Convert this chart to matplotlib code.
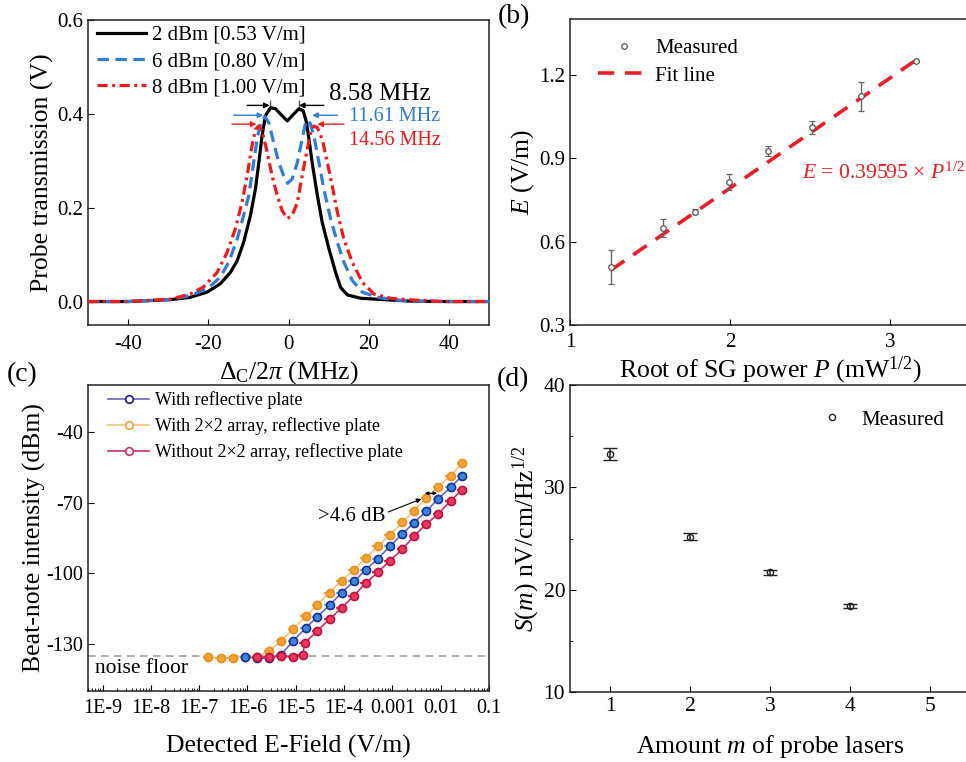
import matplotlib
matplotlib.use('Agg')
import matplotlib.pyplot as plt
from matplotlib.lines import Line2D
from matplotlib.ticker import FixedLocator, FixedFormatter, MultipleLocator, FormatStrFormatter, LogLocator, NullFormatter
import numpy as np

# ---------------- data ----------------
# (a) probe transmission spectra
a_x_2dbm = [-50, -40, -29.5, -24.5, -20.3, -17, -14.5, -12.8, -11.2, -9.5, -8.25, -7.4, -6.6, -5.75, -4.5,
            -3.25, -1.6, -0.3, 0.9, 2.6, 3.7, 4.5, 5.1, 5.9, 7.2, 8.4, 10.1, 11.75, 13, 14.7, 18, 23.8, 30, 40, 50]
a_y_2dbm = [0.0, 0.0, 0.004, 0.009, 0.02, 0.038, 0.062, 0.087, 0.126, 0.183, 0.24, 0.296, 0.353, 0.396, 0.413,
            0.411, 0.396, 0.385, 0.396, 0.411, 0.406, 0.381, 0.346, 0.296, 0.226, 0.169, 0.112, 0.062, 0.030, 0.014,
            0.007, 0.004, 0.001, 0.0, 0.0]
a_x_6dbm = [-50, -40, -29.5, -24.5, -20.3, -17, -14.9, -12.8, -11.2, -9.9, -8.7, -7.7, -6.8, -5.9, -4.9, -3.7,
            -2.4, -1.2, -0.2, 0.9, 2.2, 3.4, 4.25, 4.8, 5.5, 6.5, 7.6, 8.8, 10.5, 12.2, 13.8, 15.9, 18.4, 22.2,
            27.2, 35, 50]
a_y_6dbm = [0.0, 0.0, 0.004, 0.013, 0.027, 0.052, 0.084, 0.133, 0.183, 0.226, 0.296, 0.353, 0.385, 0.394, 0.381,
            0.339, 0.296, 0.268, 0.252, 0.261, 0.296, 0.346, 0.381, 0.387, 0.378, 0.346, 0.296, 0.240, 0.176,
            0.126, 0.084, 0.045, 0.020, 0.009, 0.003, 0.0, 0.0]
a_x_8dbm = [-50, -40, -29.5, -24.5, -21.2, -17.8, -15.3, -13.25, -11.6, -10.3, -9.25, -8.25, -7.4, -6.6, -5.3,
            -4.1, -2.8, -1.6, -0.3, 0.9, 2.2, 3.4, 4.7, 5.5, 6.3, 7.2, 8.4, 9.7, 10.9, 12.2, 13.8, 15.9, 18.4,
            21.3, 25.5, 29.7, 38, 50]
a_y_8dbm = [0.0, 0.0, 0.005, 0.016, 0.031, 0.062, 0.105, 0.155, 0.211, 0.268, 0.325, 0.367, 0.374, 0.364, 0.318,
            0.268, 0.226, 0.194, 0.177, 0.183, 0.211, 0.268, 0.325, 0.360, 0.374, 0.371, 0.346, 0.296, 0.247,
            0.190, 0.133, 0.084, 0.041, 0.016, 0.007, 0.004, 0.0, 0.0]
a_labels = ['2 dBm [0.53 V/m]', '6 dBm [0.80 V/m]', '8 dBm [1.00 V/m]']
a_split_labels = ['8.58 MHz', '11.61 MHz', '14.56 MHz']
# splitting markers: (left tail, left tip, right tail, right tip, y)
a_split_arrows = [(-10.3, -4.7, 8.8, 2.6, 0.418),
                  (-13.7, -6.3, 12.2, 5.9, 0.397),
                  (-14.1, -8.0, 13.8, 7.2, 0.378)]
a_xticks = [-40, -20, 0, 20, 40]
a_yticks = [0.0, 0.2, 0.4, 0.6]

# (b) E field vs root of SG power
b_root_p = [1.256, 1.583, 1.779, 1.996, 2.24, 2.51, 2.82, 3.16]
b_E = [0.51, 0.648, 0.708, 0.813, 0.926, 1.01, 1.123, 1.249]
b_E_err = [0.061, 0.033, 0.008, 0.029, 0.017, 0.022, 0.052, 0.003]
b_fit_slope = 0.39595
b_xticks = [1, 2, 3]
b_yticks = [0.3, 0.6, 0.9, 1.2]

# (c) beat-note intensity vs detected field
c_x_plate = [8.9e-7, 1.6e-6, 2.8e-6, 5.0e-6, 8.9e-6, 1.6e-5, 2.8e-5, 5.0e-5, 8.9e-5, 1.6e-4, 2.8e-4,
             5.0e-4, 8.9e-4, 1.6e-3, 2.8e-3, 5.0e-3, 8.9e-3, 1.6e-2, 2.8e-2]
c_y_plate = [-135.4, -136.1, -136.1, -134.5, -128.6, -123.3, -118.4, -113.6, -108.2, -103.4, -98.6,
             -93.8, -88.5, -83.3, -78.5, -73.7, -68.3, -63.5, -58.5]
c_x_array = [1.55e-7, 2.8e-7, 5.0e-7, 8.9e-7, 1.6e-6, 2.8e-6, 5.0e-6, 8.9e-6, 1.6e-5, 2.8e-5, 5.0e-5,
             8.9e-5, 1.6e-4, 2.8e-4, 5.0e-4, 8.9e-4, 1.6e-3, 2.8e-3, 5.0e-3, 8.9e-3, 1.6e-2, 2.8e-2]
c_y_array = [-135.7, -136.1, -135.8, -135.4, -135.5, -133.1, -128.6, -123.6, -118.3, -113.3, -108.2,
             -103.1, -98.6, -93.5, -88.5, -83.6, -78.4, -73.4, -68.0, -63.2, -58.5, -53.3]
c_x_without = [1.6e-6, 2.8e-6, 5.0e-6, 8.9e-6, 1.39e-5, 1.55e-5, 2.8e-5, 5.0e-5, 8.9e-5, 1.6e-4, 2.8e-4,
               5.0e-4, 8.9e-4, 1.6e-3, 2.8e-3, 5.0e-3, 8.9e-3, 1.6e-2, 2.8e-2]
c_y_without = [-135.6, -135.5, -135.3, -135.4, -134.5, -129.6, -124.3, -119.5, -114.7, -109.5, -104.2,
               -99.6, -94.6, -89.8, -84.2, -79.1, -74.8, -69.2, -64.5]
c_xerr_rel = 0.23
c_noise_floor = -135.3
c_labels = ['With reflective plate', 'With 2\u00d72 array, reflective plate', 'Without 2\u00d72 array, reflective plate']
c_xtick_vals = [1e-9, 1e-8, 1e-7, 1e-6, 1e-5, 1e-4, 1e-3, 1e-2, 1e-1]
c_xtick_labels = ['1E-9', '1E-8', '1E-7', '1E-6', '1E-5', '1E-4', '0.001', '0.01', '0.1']
c_yticks = [-130, -100, -70, -40]

# (d) sensitivity vs number of probe lasers
d_m = [1, 2, 3, 4]
d_S = [33.26, 25.19, 21.71, 18.43]
d_S_err = [0.6, 0.3, 0.26, 0.18]
d_xticks = [1, 2, 3, 4, 5]
d_yticks = [10, 20, 30, 40]

# ---------------- style ----------------
plt.rcParams['font.family'] = ['Liberation Serif', 'DejaVu Serif']
plt.rcParams['mathtext.fontset'] = 'custom'
plt.rcParams['mathtext.rm'] = 'Liberation Serif'
plt.rcParams['mathtext.it'] = 'Liberation Serif:italic'
plt.rcParams['axes.unicode_minus'] = False
plt.rcParams['xtick.direction'] = 'in'
plt.rcParams['ytick.direction'] = 'in'
plt.rcParams['axes.linewidth'] = 1.1
plt.rcParams['axes.edgecolor'] = '#222222'
plt.rcParams['xtick.major.size'] = 4
plt.rcParams['ytick.major.size'] = 4
plt.rcParams['xtick.minor.size'] = 2
plt.rcParams['ytick.minor.size'] = 2

W, H = 966, 762
fig = plt.figure(figsize=(W / 100, H / 100), dpi=100)


def rect(l, t, r, b):
    return [l / W, 1 - b / H, (r - l) / W, (b - t) / H]


axa = fig.add_axes(rect(88, 20, 489, 325))
axb = fig.add_axes(rect(570, 19, 970, 325))
axc = fig.add_axes(rect(88, 385, 489, 691))
axd = fig.add_axes(rect(570, 385, 970, 692))

# ---------------- (a) ----------------
blue_a = '#2f7dd8'
red_a = '#f01a1a'
axa.plot(a_x_2dbm, a_y_2dbm, color='black', lw=2.3, label=a_labels[0], zorder=3)
axa.plot(a_x_6dbm, a_y_6dbm, color=blue_a, lw=2.3, dashes=(3.6, 2.0), label=a_labels[1], zorder=4)
axa.plot(a_x_8dbm, a_y_8dbm, color=red_a, lw=2.3, dashes=(3.2, 1.4, 0.9, 1.4), label=a_labels[2], zorder=5)
axa.set_xlim(-50, 50)
axa.set_ylim(-0.05, 0.6)
axa.set_xticks(a_xticks)
axa.set_yticks(a_yticks)
axa.yaxis.set_major_formatter(FormatStrFormatter('%.1f'))
axa.tick_params(labelsize=15)
axa.tick_params(axis='x', pad=7)
axa.set_xlabel(r'$\Delta_\mathrm{C}$/2$\pi$ (MHz)', fontsize=18.5, labelpad=4)
axa.set_ylabel('Probe transmission (V)', fontsize=18.5, labelpad=2)
axa.legend(loc='upper left', bbox_to_anchor=(0.015, 0.993), frameon=False, fontsize=15,
           handlelength=2.35, handletextpad=0.3, labelspacing=0.32, borderaxespad=0, borderpad=0.15)
arrow_cols = [('#555555', 'black'), ('#6aa8e8', blue_a), ('#f05050', red_a)]
for (lt, ltip, rt, rtip, yy), (lc, hc) in zip(a_split_arrows, arrow_cols):
    for tail, tip in ((lt, ltip), (rt, rtip)):
        axa.annotate('', xy=(tip, yy), xytext=(tail, yy),
                     arrowprops=dict(arrowstyle='-|>', color=hc, lw=1.0, mutation_scale=8,
                                     shrinkA=0, shrinkB=0), zorder=6)
axa.plot([a_split_arrows[0][1] + 0.2] * 2, [0.408, 0.428], color='#555555', lw=1)
axa.plot([a_split_arrows[0][3]] * 2, [0.408, 0.428], color='#555555', lw=1)
axa.text(10, 0.443, a_split_labels[0], fontsize=18, va='center', color='black')
axa.text(15, 0.394, a_split_labels[1], fontsize=14.5, va='center', color=blue_a)
axa.text(15, 0.343, a_split_labels[2], fontsize=14.5, va='center', color=red_a)

# ---------------- (b) ----------------
axb.errorbar(b_root_p, b_E, yerr=b_E_err, fmt='o', ms=4, mfc='white', mec='#555555', mew=0.9,
             ecolor='#666666', elinewidth=1.0, capsize=2.5, capthick=1.0, zorder=3)
xf = np.array([b_root_p[0], b_root_p[-1]])
axb.plot(xf, b_fit_slope * xf, color='#ee1c25', lw=2.6, dashes=(4.5, 3.0), zorder=2)
axb.set_xlim(1, 3.5)
axb.set_ylim(0.3, 1.4)
axb.set_xticks(b_xticks)
axb.set_yticks(b_yticks)
axb.yaxis.set_major_formatter(FormatStrFormatter('%.1f'))
axb.tick_params(labelsize=15)
axb.tick_params(axis='x', pad=6)
axb.set_xlabel(r'Root of SG power $P$ (mW$^{1/2}$)', fontsize=18.5, labelpad=2)
axb.set_ylabel(r'$E$ (V/m)', fontsize=18.5, labelpad=2)
hb = [Line2D([], [], ls='none', marker='o', ms=4, mfc='white', mec='#555555', mew=0.9),
      Line2D([], [], color='#ee1c25', lw=2.6, dashes=(4.5, 3.0))]
axb.legend(hb, ['Measured', 'Fit line'], loc='upper left', bbox_to_anchor=(0.07, 0.935), frameon=False,
           fontsize=15, handlelength=2.5, handletextpad=0.25, labelspacing=0.36, borderaxespad=0, borderpad=0)
axb.text(2.45, 0.847, r'$E$ = 0.39595 $\times$ $P^{1/2}$', fontsize=15.6, color='#ee1c25', va='center')

# ---------------- (c) ----------------
series_c = [
    (c_x_array, c_y_array, '#f7c27a', '#f3a23a', '#e8901e', '#f4a640', 2),
    (c_x_plate, c_y_plate, '#6464c8', '#3c86d8', '#1a2e9a', '#40c4e6', 3),
    (c_x_without, c_y_without, '#c8306e', '#e8385c', '#c01040', '#e82a48', 4),
]
for xs, ys, lc, fc, ec, erc, z in series_c:
    xs = np.array(xs)
    axc.plot(xs, ys, color=lc, lw=1.2, zorder=z)
    axc.errorbar(xs, ys, xerr=c_xerr_rel * xs, fmt='none', ecolor=erc, elinewidth=1.6, zorder=z)
    axc.plot(xs, ys, ls='none', marker='o', ms=5.8, mfc=fc, mec=ec, mew=1.2, zorder=z + 0.5)
axc.axhline(c_noise_floor, color='#999999', lw=1.1, dashes=(5, 3.5), zorder=1)
axc.set_xscale('log')
axc.set_xlim(5e-10, 0.1)
axc.set_ylim(-150, -20)
axc.xaxis.set_major_locator(FixedLocator(c_xtick_vals))
axc.xaxis.set_major_formatter(FixedFormatter(c_xtick_labels))
axc.xaxis.set_minor_locator(LogLocator(base=10, subs=np.arange(2, 10), numticks=20))
axc.xaxis.set_minor_formatter(NullFormatter())
axc.set_yticks(c_yticks)
axc.tick_params(labelsize=14.5)
axc.tick_params(axis='x', pad=6)
axc.set_xlabel('Detected E-Field (V/m)', fontsize=18.5, labelpad=12)
axc.set_ylabel('Beat-note intensity (dBm)', fontsize=18.5, labelpad=0)
hc = [Line2D([], [], color='#6464c8', lw=1.2, marker='o', ms=5.5, mfc='white', mec='#1a1a8c', mew=1.2),
      Line2D([], [], color='#f7c27a', lw=1.2, marker='o', ms=5.5, mfc='white', mec='#f0a040', mew=1.2),
      Line2D([], [], color='#c8306e', lw=1.2, marker='o', ms=5.5, mfc='white', mec='#c0306a', mew=1.2)]
axc.legend(hc, c_labels, loc='upper left', bbox_to_anchor=(0.045, 0.985), frameon=False, fontsize=13,
           handlelength=2.3, handletextpad=0.3, labelspacing=0.45, borderaxespad=0, borderpad=0.1)
axc.text(7e-10, -140.5, 'noise floor', fontsize=15.5, va='center')
axc.annotate('>4.6 dB', xy=(4.0e-3, -68.4), xytext=(2.9e-5, -76), fontsize=15, va='center',
             arrowprops=dict(arrowstyle='-|>', color='black', lw=0.8, mutation_scale=7, shrinkA=0, shrinkB=0,
                             relpos=(1.0, 0.7)))
axc.annotate('', xy=(8.4e-3, -66.0), xytext=(4.7e-3, -66.0),
             arrowprops=dict(arrowstyle='<|-|>', color='black', lw=0.8, mutation_scale=5, shrinkA=0, shrinkB=0))

# ---------------- (d) ----------------
axd.errorbar(d_m, d_S, yerr=d_S_err, fmt='o', ms=4.5, mfc='none', mec='#222222', mew=1.0,
             ecolor='#222222', elinewidth=1.1, capsize=5, capthick=1.1)
axd.set_xlim(0.5, 5.5)
axd.set_ylim(10, 40)
axd.set_xticks(d_xticks)
axd.set_yticks(d_yticks)
axd.yaxis.set_minor_locator(MultipleLocator(5))
axd.tick_params(labelsize=15.5)
axd.set_xlabel(r'Amount $m$ of probe lasers', fontsize=18.5, labelpad=12)
axd.set_ylabel(r'$S$($m$) nV/cm/Hz$^{1/2}$', fontsize=18.5, labelpad=1)
hd = [Line2D([], [], ls='none', marker='o', ms=4.5, mfc='none', mec='#222222', mew=1.0)]
axd.legend(hd, ['Measured'], loc='upper left', bbox_to_anchor=(0.63, 0.918), frameon=False, fontsize=15,
           handlelength=1.0, handletextpad=0.9, borderaxespad=0, borderpad=0)

# panel labels
fig.text(498 / W, 1 - 17 / H, '(b)', fontsize=20, va='center', ha='left')
fig.text(7 / W, 1 - 375 / H, '(c)', fontsize=20, va='center', ha='left')
fig.text(497 / W, 1 - 380 / H, '(d)', fontsize=20, va='center', ha='left')

fig.savefig('out.png', dpi=100)
